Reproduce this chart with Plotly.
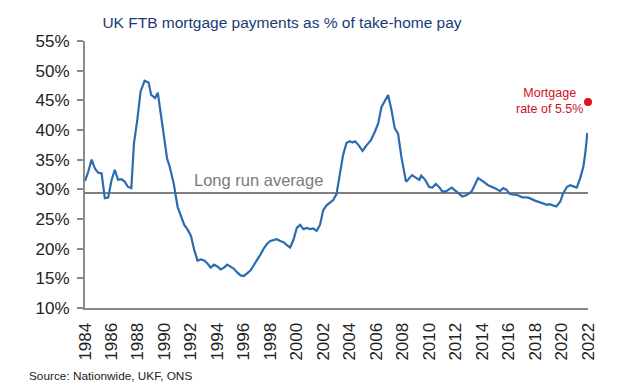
import plotly.graph_objects as go

years = [1984.0, 1984.25, 1984.5, 1984.75, 1985.0, 1985.25, 1985.5, 1985.75, 1986.0, 1986.25,
         1986.5, 1986.75, 1987.0, 1987.25, 1987.5, 1987.7, 1987.95, 1988.2, 1988.5, 1988.8,
         1989.0, 1989.3, 1989.5, 1989.8, 1990.2, 1990.4, 1990.7, 1991.0, 1991.25, 1991.5,
         1991.75, 1992.0, 1992.25, 1992.5, 1992.75, 1993.0, 1993.25, 1993.5, 1993.75, 1994.0,
         1994.25, 1994.5, 1994.75, 1995.0, 1995.25, 1995.5, 1995.75, 1996.0, 1996.25, 1996.5,
         1996.75, 1997.0, 1997.25, 1997.5, 1997.75, 1998.0, 1998.25, 1998.5, 1998.75, 1999.0,
         1999.25, 1999.5, 1999.75, 2000.0, 2000.25, 2000.5, 2000.75, 2001.0, 2001.25, 2001.5,
         2001.75, 2002.0, 2002.25, 2002.5, 2002.75, 2003.0, 2003.25, 2003.5, 2003.75, 2004.0,
         2004.2, 2004.4, 2004.65, 2004.97, 2005.3, 2005.6, 2005.9, 2006.15, 2006.4, 2006.65,
         2006.9, 2007.15, 2007.4, 2007.65, 2007.9, 2008.25, 2008.4, 2008.7, 2009.0, 2009.25,
         2009.4, 2009.7, 2010.0, 2010.25, 2010.5, 2010.75, 2011.0, 2011.3, 2011.7, 2012.0,
         2012.3, 2012.5, 2012.8, 2013.2, 2013.7, 2014.1, 2014.45, 2014.97, 2015.35, 2015.6,
         2015.85, 2016.1, 2016.5, 2016.7, 2017.0, 2017.5, 2018.0, 2018.5, 2018.9, 2019.1,
         2019.4, 2019.6, 2019.9, 2020.1, 2020.4, 2020.65, 2020.9, 2021.15, 2021.4, 2021.65,
         2021.8, 2021.95]
share = [31.4, 33.0, 35.0, 33.5, 32.8, 32.7, 28.5, 28.6, 31.5, 33.3,
         31.6, 31.7, 31.3, 30.4, 30.2, 37.8, 41.7, 46.5, 48.3, 48.0,
         45.9, 45.4, 46.3, 41.7, 35.2, 33.8, 31.0, 27.0, 25.3, 24.0,
         23.2, 22.2, 19.8, 18.0, 18.2, 18.0, 17.5, 16.8, 17.3, 17.0,
         16.5, 16.8, 17.3, 17.0, 16.6, 16.0, 15.5, 15.4, 15.8, 16.3,
         17.2, 18.0, 19.0, 20.0, 20.8, 21.3, 21.5, 21.6, 21.3, 21.1,
         20.6, 20.2, 21.5, 23.5, 24.0, 23.3, 23.5, 23.3, 23.4, 23.0,
         24.0, 26.5, 27.3, 27.7, 28.2, 29.2, 32.5, 35.8, 37.8, 38.1,
         37.9, 38.1, 37.5, 36.5, 37.5, 38.3, 39.7, 41.1, 43.9, 45.0,
         45.9, 43.4, 40.3, 39.4, 35.5, 31.3, 31.6, 32.4, 32.0, 31.6,
         32.3, 31.6, 30.4, 30.3, 30.9, 30.4, 29.6, 29.7, 30.3, 29.8,
         29.2, 28.8, 29.0, 29.6, 31.9, 31.3, 30.7, 30.2, 29.7, 30.2,
         29.9, 29.2, 29.0, 29.0, 28.7, 28.6, 28.1, 27.7, 27.4, 27.5,
         27.2, 27.1, 27.9, 29.2, 30.4, 30.7, 30.5, 30.3, 31.8, 33.8,
         36.2, 39.5]

long_run_average = 29.4
avg_span = [1984, 2022]
rate_point_year = [2022.0]
rate_point_value = [44.7]

y_ticks = [10, 15, 20, 25, 30, 35, 40, 45, 50, 55]
y_tick_labels = [f"{v}%" for v in y_ticks]
x_ticks = list(range(1984, 2023, 2))
x_tick_labels = [str(v) for v in x_ticks]

fig = go.Figure()
fig.add_trace(go.Scatter(x=avg_span, y=[long_run_average, long_run_average], mode="lines",
                         line=dict(color="#808080", width=2), hoverinfo="skip", showlegend=False))
fig.add_trace(go.Scatter(x=years, y=share, mode="lines",
                         line=dict(color="#2b6cb0", width=2.2), showlegend=False))
fig.add_trace(go.Scatter(x=rate_point_year, y=rate_point_value, mode="markers", cliponaxis=False,
                         marker=dict(color="#e0101e", size=8), showlegend=False))

fig.add_annotation(x=1997.07, y=31.6, xref="x", yref="y", text="Long run average",
                   showarrow=False, font=dict(family="Liberation Sans", size=16.5, color="#7a7a7a"))
fig.add_annotation(x=2019.1, y=44.9, xref="x", yref="y", text="Mortgage<br>rate of 5.5%",
                   showarrow=False, align="center",
                   font=dict(family="Liberation Sans", size=12.5, color="#d0101e"))
fig.add_annotation(x=-0.1153, y=-0.2547, xref="paper", yref="paper", xanchor="left", yanchor="middle",
                   text="Source: Nationwide, UKF, ONS", showarrow=False,
                   font=dict(family="Liberation Sans", size=11.8, color="#222222"))

fig.update_layout(
    width=634, height=386,
    margin=dict(l=85, r=46, t=41, b=78),
    paper_bgcolor="white", plot_bgcolor="white",
    title=dict(text="UK FTB mortgage payments as % of take-home pay",
               x=282/634, xanchor="center", xref="container",
               y=1-23/386, yanchor="middle", yref="container",
               font=dict(family="Liberation Sans", size=15.5, color="#1a3a75")),
    font=dict(family="Liberation Sans", color="#222222"),
)
fig.update_xaxes(range=[1984, 2022], tickvals=x_ticks, ticktext=x_tick_labels,
                 tickangle=-90, showgrid=False, zeroline=False, showline=True,
                 linecolor="#8a8a8a", linewidth=2, ticks="", ticklabelstandoff=6,
                 tickfont=dict(size=17, color="#222222"))
fig.update_yaxes(range=[10, 55], tickvals=y_ticks, ticktext=y_tick_labels, showgrid=False, zeroline=False,
                 showline=True, linecolor="#8a8a8a", linewidth=2, ticks="outside", ticklen=6,
                 tickcolor="#8a8a8a", tickwidth=1.5, ticklabelstandoff=4,
                 tickfont=dict(size=17, color="#222222"))

fig.write_html("out.html", config={"displayModeBar": False},
               post_script="document.body.style.margin='0';document.body.style.overflow='hidden';")
